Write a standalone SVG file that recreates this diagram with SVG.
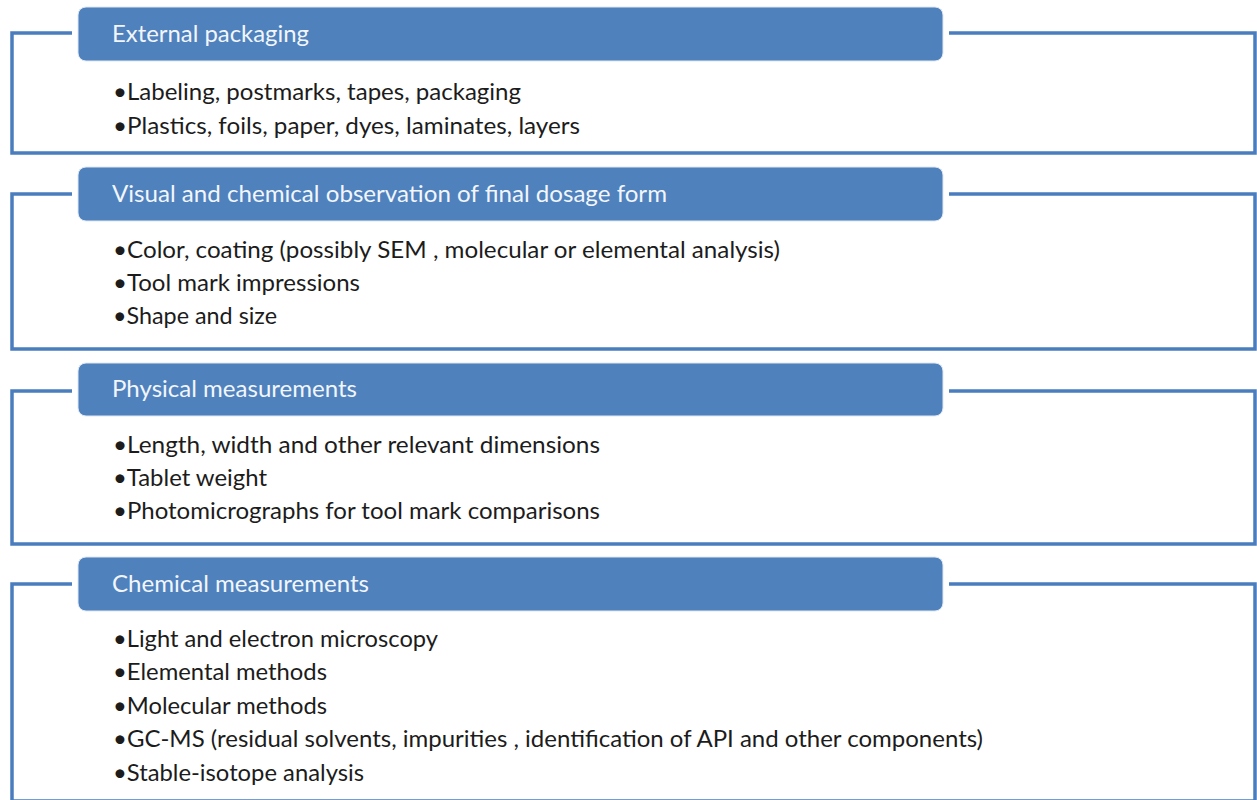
<svg xmlns="http://www.w3.org/2000/svg" width="1257" height="800" viewBox="0 0 1257 800">
<style>
.frame{fill:none;stroke:#4a7dbd;stroke-width:3.5}
.hdr{fill:#4f81bd;stroke:#dfe8f4;stroke-width:1}
.ht{font-family:Lato,"Open Sans",sans-serif;font-size:23px;fill:#f2f6fb}
.bt{font-family:Lato,"Open Sans",sans-serif;font-size:23px;fill:#1c1c1c}
</style>
<rect width="1257" height="800" fill="#ffffff"/>
<g id="connectors">
<path class="frame" d="M72,33 H12 V153 H1255 V33 H949"/>
<path class="frame" d="M72,194 H12 V349 H1255 V194 H949"/>
<path class="frame" d="M72,391 H12 V544 H1255 V391 H949"/>
<path class="frame" d="M72,584 H12 V801 H1255 V584 H949"/>
</g>
<g id="node1">
<rect class="hdr" x="78" y="7" width="865" height="54" rx="8"/>
<text class="ht" x="112" y="42" textLength="197" lengthAdjust="spacingAndGlyphs">External packaging</text>
<text class="bt" x="113" y="100" textLength="408" lengthAdjust="spacingAndGlyphs">•Labeling, postmarks, tapes, packaging</text>
<text class="bt" x="113" y="134" textLength="467" lengthAdjust="spacingAndGlyphs">•Plastics, foils, paper, dyes, laminates, layers</text>
</g>
<g id="node2">
<rect class="hdr" x="78" y="167" width="865" height="54" rx="8"/>
<text class="ht" x="112" y="202" textLength="555" lengthAdjust="spacingAndGlyphs">Visual and chemical observation of final dosage form</text>
<text class="bt" x="113" y="258" textLength="667" lengthAdjust="spacingAndGlyphs">•Color, coating (possibly SEM , molecular or elemental analysis)</text>
<text class="bt" x="113" y="291" textLength="247" lengthAdjust="spacingAndGlyphs">•Tool mark impressions</text>
<text class="bt" x="113" y="324" textLength="164" lengthAdjust="spacingAndGlyphs">•Shape and size</text>
</g>
<g id="node3">
<rect class="hdr" x="78" y="363" width="865" height="53" rx="8"/>
<text class="ht" x="112" y="397" textLength="245" lengthAdjust="spacingAndGlyphs">Physical measurements</text>
<text class="bt" x="113" y="453" textLength="487" lengthAdjust="spacingAndGlyphs">•Length, width and  other relevant dimensions</text>
<text class="bt" x="113" y="486" textLength="154" lengthAdjust="spacingAndGlyphs">•Tablet weight</text>
<text class="bt" x="113" y="519" textLength="487" lengthAdjust="spacingAndGlyphs">•Photomicrographs for tool mark comparisons</text>
</g>
<g id="node4">
<rect class="hdr" x="78" y="557" width="865" height="54" rx="8"/>
<text class="ht" x="112" y="592" textLength="257" lengthAdjust="spacingAndGlyphs">Chemical measurements</text>
<text class="bt" x="113" y="647" textLength="325" lengthAdjust="spacingAndGlyphs">•Light and electron microscopy</text>
<text class="bt" x="113" y="680" textLength="214" lengthAdjust="spacingAndGlyphs">•Elemental methods</text>
<text class="bt" x="113" y="714" textLength="214" lengthAdjust="spacingAndGlyphs">•Molecular methods</text>
<text class="bt" x="113" y="747" textLength="870" lengthAdjust="spacingAndGlyphs">•GC-MS (residual solvents, impurities , identification of API and other components)</text>
<text class="bt" x="113" y="781" textLength="251" lengthAdjust="spacingAndGlyphs">•Stable-isotope analysis</text>
</g>
</svg>
